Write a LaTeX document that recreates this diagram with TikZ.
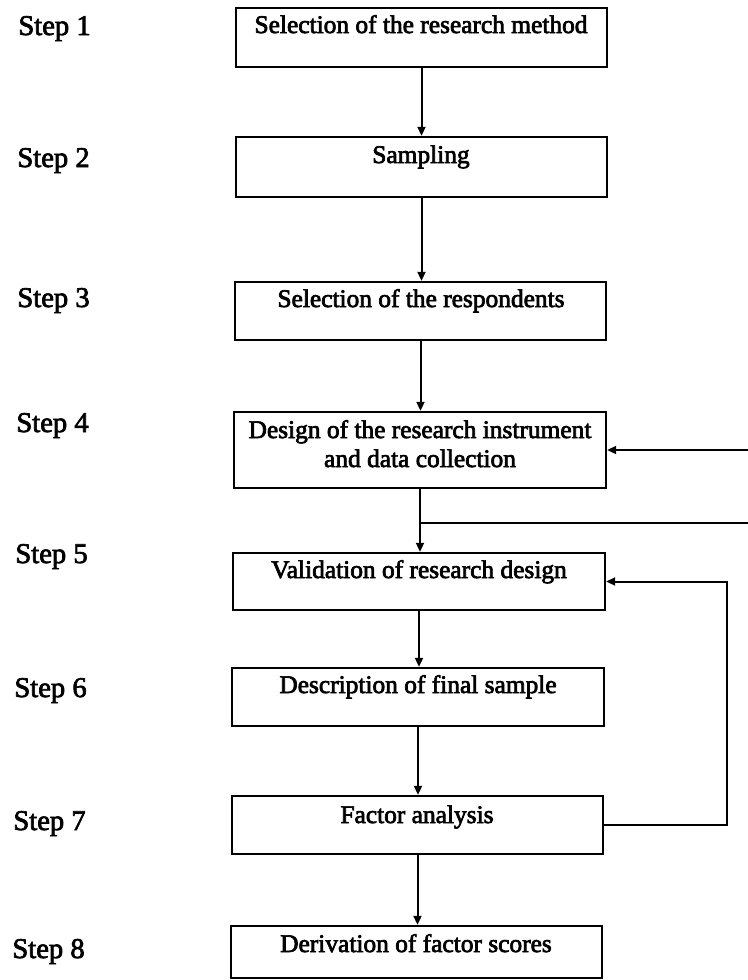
\documentclass[tikz,border=0pt]{standalone}
\usepackage{fontspec}
\setmainfont{Liberation Serif}
\usetikzlibrary{arrows.meta,fit}

% slightly heavier type: fill and stroke the glyph outlines
\newcommand\heavytext[1]{\special{pdf:literal direct 2 Tr 0.35 w 0 G}#1\special{pdf:literal direct 0 Tr}}

\tikzset{
  stepbox/.style={draw=black, line width=1.2pt, inner sep=0pt},
  boxtext/.style={inner sep=0pt, anchor=base, font=\fontsize{12.7}{14.5}\selectfont},
  steplabel/.style={inner sep=0pt, anchor=base west, font=\fontsize{14.3}{16}\selectfont},
  link/.style={draw=black, line width=1pt},
  arr/.style={link, -{Triangle[length=4.5pt, width=4pt]}},
}

\begin{document}
\begin{tikzpicture}[x=0.5pt, y=-0.5pt]
\useasboundingbox (0,0) rectangle (748,980);

% box corners
\coordinate (b1a) at (236,8);   \coordinate (b1b) at (607,67);
\coordinate (b2a) at (236,137); \coordinate (b2b) at (607,197);
\coordinate (b3a) at (235,282); \coordinate (b3b) at (606,340);
\coordinate (b4a) at (234,412); \coordinate (b4b) at (606,488);
\coordinate (b5a) at (233,553); \coordinate (b5b) at (605,610);
\coordinate (b6a) at (232,668); \coordinate (b6b) at (604,726);
\coordinate (b7a) at (232,796); \coordinate (b7b) at (603,854);
\coordinate (b8a) at (231,926); \coordinate (b8b) at (602,978);

\node[stepbox, fit=(b1a)(b1b)] (b1) {};
\node[stepbox, fit=(b2a)(b2b)] (b2) {};
\node[stepbox, fit=(b3a)(b3b)] (b3) {};
\node[stepbox, fit=(b4a)(b4b)] (b4) {};
\node[stepbox, fit=(b5a)(b5b)] (b5) {};
\node[stepbox, fit=(b6a)(b6b)] (b6) {};
\node[stepbox, fit=(b7a)(b7b)] (b7) {};
\node[stepbox, fit=(b8a)(b8b)] (b8) {};

% box texts
\node[boxtext] (t1) at (421,33) {\heavytext{Selection of the research method}};
\node[boxtext] (t2) at (421,163) {\heavytext{Sampling}};
\node[boxtext] (t3) at (421,307) {\heavytext{Selection of the respondents}};
\node[boxtext] (t4a) at (420,438) {\heavytext{Design of the research instrument}};
\node[boxtext] (t4b) at (420,467) {\heavytext{and data collection}};
\node[boxtext] (t5) at (419,578) {\heavytext{Validation of research design}};
\node[boxtext] (t6) at (418,693) {\heavytext{Description of final sample}};
\node[boxtext] (t7) at (417,823) {\heavytext{Factor analysis}};
\node[boxtext] (t8) at (416,952) {\heavytext{Derivation of factor scores}};

% step labels
\node[steplabel] (s1) at (18,35)  {\heavytext{Step 1}};
\node[steplabel] (s2) at (17,167) {\heavytext{Step 2}};
\node[steplabel] (s3) at (17,307) {\heavytext{Step 3}};
\node[steplabel] (s4) at (16,432) {\heavytext{Step 4}};
\node[steplabel] (s5) at (15,563) {\heavytext{Step 5}};
\node[steplabel] (s6) at (14,697) {\heavytext{Step 6}};
\node[steplabel] (s7) at (13,830) {\heavytext{Step 7}};
\node[steplabel] (s8) at (12,958) {\heavytext{Step 8}};

% main flow
\draw[arr] (b1.south) -- (b1.south |- b2.north);
\draw[arr] (b2.south) -- (b2.south |- b3.north);
\draw[arr] (b3.south) -- (b3.south |- b4.north);
\draw[arr] (b4.south) -- (b4.south |- b5.north);
\draw[arr] (b5.south) -- (b5.south |- b6.north);
\draw[arr] (b6.south) -- (b6.south |- b7.north);
\draw[arr] (b7.south) -- (b7.south |- b8.north);

% lines running off to the right near step 4
\coordinate (inR) at (748,450);
\coordinate (junc) at (419,523);
\coordinate (outR) at (748,523);
\draw[arr] (inR) -- (inR -| b4.east);
\draw[link] (junc) -- (outR);

% feedback from factor analysis to validation
\coordinate (fbx) at (727,0);
\draw[arr] (b7.east) -- (b7.east -| fbx) |- (b5.east);
\end{tikzpicture}
\end{document}
